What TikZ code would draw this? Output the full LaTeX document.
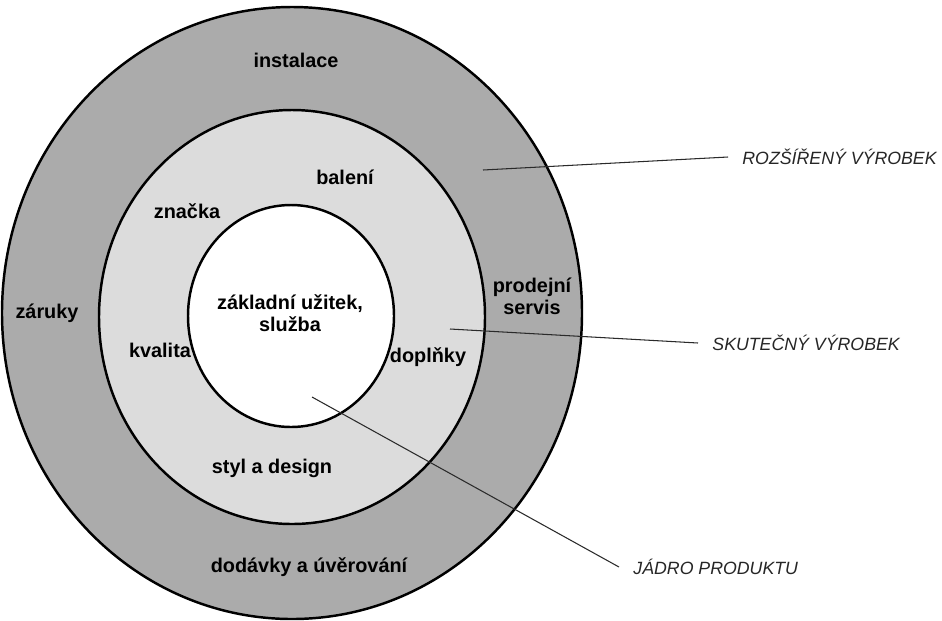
\documentclass[tikz,border=0pt]{standalone}
\usepackage{fontspec}
\setmainfont{Liberation Sans}
\usetikzlibrary{positioning}
\definecolor{outerring}{HTML}{ABABAB}
\definecolor{midring}{HTML}{DCDCDC}
\definecolor{leader}{HTML}{2a2a2a}

\begin{document}
\begin{tikzpicture}[
    x=0.02cm, y=-0.02cm,
    ring/.style={draw=black, line width=1.4pt},
    item/.style={
        font=\fontsize{11.3}{12.4}\selectfont\bfseries,
        align=center, inner sep=1pt,
    },
    layer/.style={
        font=\fontsize{10.1}{12}\selectfont\itshape,
        text=black!85, anchor=west, inner ysep=0pt, inner xsep=8pt,
    },
    leaderline/.style={draw=leader, line width=0.6pt},
]
\useasboundingbox (0,0) rectangle (942,620);

% ── Rings: augmented, actual, core ─────────────────────────────────────────
\draw[ring, fill=outerring] (292,313) ellipse [x radius=290, y radius=306];
\draw[ring, fill=midring]   (292,317) ellipse [x radius=193, y radius=207];
\draw[ring, fill=white]     (291,316) ellipse [x radius=103, y radius=111];

% ── Outer ring items ───────────────────────────────────────────────────────
\node[item] (instalace) at (296,60)  {instalace};
\node[item] (zaruky)    at (47,313)  {záruky};
\node[item] (servis)    at (532,296) {prodejní\\servis};
\node[item] (dodavky)   at (309,567) {dodávky a úvěrování};

% ── Middle ring items ──────────────────────────────────────────────────────
\node[item] (baleni)  at (345,177) {balení};
\node[item] (znacka)  at (187,211) {značka};
\node[item] (kvalita) at (160,350) {kvalita};
\node[item] (doplnky) at (428,357) {doplňky};
\node[item] (styl)    at (272,468) {styl a design};

% ── Core ───────────────────────────────────────────────────────────────────
\node[item] (uzitek) at (290,313) {základní užitek,\\služba};

% ── Layer names and leaders ────────────────────────────────────────────────
\node[layer] (rozsireny) at (728,157) {ROZŠÍŘENÝ VÝROBEK};
\node[layer] (skutecny)  at (698,343) {SKUTEČNÝ VÝROBEK};
\node[layer] (jadro)     at (619,567) {JÁDRO PRODUKTU};

\coordinate (in-rozsireny) at (483,170);
\coordinate (in-skutecny)  at (450,329);
\coordinate (in-jadro)     at (312,397);

\draw[leaderline] (in-rozsireny) -- (rozsireny.west);
\draw[leaderline] (in-skutecny)  -- (skutecny.west);
\draw[leaderline] (in-jadro)     -- (jadro.west);

\end{tikzpicture}
\end{document}
